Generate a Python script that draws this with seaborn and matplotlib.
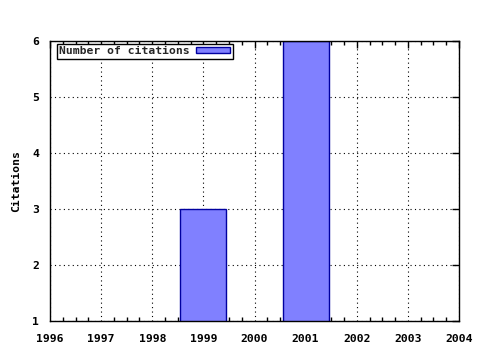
import matplotlib
matplotlib.use("Agg")
import matplotlib.pyplot as plt
from matplotlib.ticker import MultipleLocator
import seaborn as sns
import pandas as pd

years = [1999, 2001]
citations = [3, 6]
series_name = "Number of citations"
xticks = list(range(1996, 2005))
yticks = [1, 2, 3, 4, 5, 6]

sns.set_theme(style="white")
plt.rcParams['font.family'] = ['DejaVu Sans Mono', 'DejaVu Sans']
plt.rcParams['font.weight'] = 'bold'

df = pd.DataFrame({"year": years, "citations": citations})

fig = plt.figure(figsize=(4.8, 3.5), dpi=100)
ax = fig.add_axes([50/480, 1 - 321/350, (459-50)/480, (321-41)/350])

# native_scale width is relative to min spacing between bars (2 years) -> 0.9 year
sns.barplot(data=df, x="year", y="citations", native_scale=True, width=0.45,
            color="#8080ff", saturation=1, edgecolor="#0000a0", linewidth=1,
            label=series_name, ax=ax, zorder=3)

ax.set_xlim(1996, 2004)
ax.set_ylim(1, 6)
ax.set_xticks(xticks)
ax.set_xticklabels([str(x) for x in xticks])
ax.set_yticks(yticks)
ax.set_yticklabels([str(y) for y in yticks])
ax.xaxis.set_minor_locator(MultipleLocator(0.25))

ax.grid(True, which='major', color='black', linestyle=(0, (1, 3)), linewidth=0.8, zorder=1)
ax.set_axisbelow(True)

ax.tick_params(axis='both', which='major', direction='in', length=5, width=1,
               color='black', top=True, right=True, labelsize=8.2, labelcolor='black')
ax.tick_params(axis='x', which='major', pad=9)
ax.tick_params(axis='y', which='major', pad=8)
ax.tick_params(axis='x', which='minor', direction='in', length=3, width=1,
               color='black', top=True, bottom=True)
for lab in ax.get_xticklabels() + ax.get_yticklabels():
    lab.set_fontweight('bold')

for s in ax.spines.values():
    s.set_color('black')
    s.set_linewidth(1)
    s.set_visible(True)
    s.set_zorder(5)

ax.set_xlabel("")
ax.set_ylabel("Citations", fontsize=8.2, fontweight='bold', color='black', labelpad=8)

leg = ax.legend(loc='upper left', bbox_to_anchor=(7/409, 1 - 3/280), markerfirst=False,
                frameon=True, fancybox=False, framealpha=1, edgecolor='black',
                prop={'size': 8.2, 'weight': 'bold'}, borderpad=0.2, handlelength=3.0,
                handleheight=0.5, handletextpad=0.55, borderaxespad=0)
leg.get_frame().set_linewidth(1)
leg.set_zorder(10)

fig.savefig("out.png", dpi=100)
